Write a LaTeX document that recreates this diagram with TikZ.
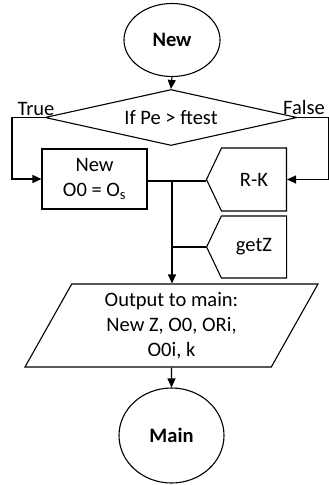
\documentclass[tikz,border=0pt]{standalone}
\usepackage{fontspec}
\setmainfont{Carlito}
\usetikzlibrary{shapes.geometric,shapes.symbols,arrows.meta}
\begin{document}
\begin{tikzpicture}[x=1pt,y=-1pt,
  line width=1.1pt,
  every node/.style={font=\fontsize{20.5}{25}\selectfont, align=center, inner sep=0pt},
  arr/.style={-{Triangle[length=9pt,width=8pt]}},
  term/.style={draw, ellipse, font=\fontsize{20.5}{25}\selectfont\bfseries},
  proc/.style={draw, rectangle},
  disp/.style={draw, signal, signal to=west, signal pointer angle=129},
  io/.style={draw, trapezium, trapezium left angle=55, trapezium right angle=125,
    trapezium stretches body}]
\useasboundingbox (0,0) rectangle (329,485);

% shapes
\node[term, minimum width=96pt, minimum height=73pt] (new) at (172,40) {New};
\node[draw, diamond, aspect=4.5, minimum width=252pt, minimum height=56pt] (dec) at (171,117.5) {If Pe > ftest};
\node[proc, minimum width=105pt, minimum height=60pt] (box) at (94.5,179) {New\\O0 = O\textsubscript{s}};
\node[disp, minimum width=80pt, minimum height=63pt] (rk) at (254,179.5) {R-K};
\node[disp, minimum width=80pt, minimum height=62pt] (getz) at (254,247) {getZ};
\node[io, minimum width=293pt, minimum height=83pt] (out) at (171.5,325.5)
  {Output to main:\\New Z, O0, ORi,\\O0i, k};
\node[term, minimum width=105pt, minimum height=95pt] (main) at (171.5,435.5) {Main};

% branch labels
\node[anchor=south] (tl) at (36,116) {True};
\node[anchor=south] (fl) at (304,115) {False};

% helper points
\coordinate (tc) at (12,117.5);
\coordinate (fc) at (328.5,117.5);
\coordinate (jn) at (172,181);

% connectors
\draw[arr] (new.south) -- (dec.north);
\draw[arr] (dec.west) -- (tc) |- (box.west);
\draw[arr] (dec.east) -- (fc) |- (rk.east);
\draw (box.east |- jn) -- (rk.west |- jn);
\draw (getz.west) -- (jn |- getz.west);
\draw[arr] (jn) -- (jn |- out.north);
\draw[arr] (out.south) -- (main.north);
\end{tikzpicture}
\end{document}
